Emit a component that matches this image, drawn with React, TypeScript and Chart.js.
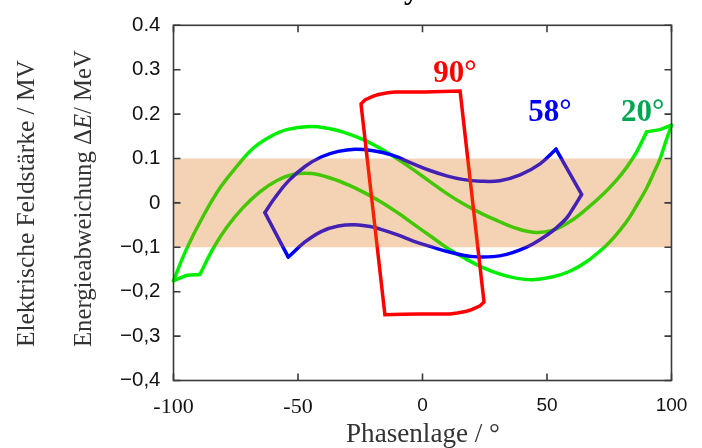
import React, { useEffect, useRef } from 'react';
import { Chart, registerables } from 'chart.js';

Chart.register(...registerables);

// ---------------- data ----------------
const xTickValues = [-100, -50, 0, 50, 100];
const xTickLabels = ['-100', '-50', '0', '50', '100'];
const yTickValues = [-0.4, -0.3, -0.2, -0.1, 0, 0.1, 0.2, 0.3, 0.4];
const yTickLabels = ['\u22120,4', '\u22120,3', '\u22120,2', '\u22120,1', '0', '0.1', '0.2', '0.3', '0.4'];

const bandLow = -0.1;
const bandHigh = 0.1;

// 20° (green) loop
const green20UpperX = [-100, -94.7, -88, -81.3, -74.6, -68, -61.2, -54.5, -45.2, -38, -31.5, -24, -17.4, -10, -4, 3, 9.5, 16, 23, 30, 36.5, 44.5, 52, 59.2, 66, 72.6, 78, 82, 86, 90];
const green20UpperY = [-0.175, -0.103, -0.029, 0.034, 0.082, 0.123, 0.149, 0.165, 0.172, 0.168, 0.159, 0.143, 0.124, 0.099, 0.076, 0.048, 0.022, -0.001, -0.022, -0.04, -0.055, -0.066, -0.062, -0.042, -0.013, 0.02, 0.052, 0.08, 0.115, 0.16];
const green20RightJoinX = [90, 95.4, 100];
const green20RightJoinY = [0.16, 0.165, 0.175];
const green20LowerX = [100, 97.5, 95.4, 92.5, 90, 86, 82, 77, 72.6, 66, 59.2, 52, 44.5, 38, 31.5, 24, 17.4, 10, 4, -3, -9.5, -16, -23, -30, -36.5, -44.5, -52, -58.6, -65.3, -72, -78.6, -84, -89.4];
const green20LowerY = [0.175, 0.135, 0.099, 0.063, 0.033, -0.006, -0.042, -0.077, -0.102, -0.132, -0.154, -0.167, -0.173, -0.17, -0.161, -0.145, -0.126, -0.102, -0.078, -0.05, -0.024, 0, 0.022, 0.041, 0.055, 0.066, 0.064, 0.05, 0.025, -0.01, -0.055, -0.102, -0.161];
const green20LeftJoinX = [-89.4, -94.6, -100];
const green20LeftJoinY = [-0.161, -0.163, -0.175];

// 58° (blue) loop
const blue58UpperX = [-63.3, -59.2, -53.9, -47.2, -40.5, -33.8, -27.1, -20.4, -12.4, -3.7, 3, 9.7, 16, 23.1, 31.1, 39.2, 47.2, 53.6];
const blue58UpperY = [-0.022, 0.012, 0.049, 0.082, 0.104, 0.116, 0.121, 0.118, 0.108, 0.088, 0.073, 0.061, 0.053, 0.049, 0.05, 0.063, 0.088, 0.121];
const blue58RightEdgeX = [53.6, 63.9];
const blue58RightEdgeY = [0.121, 0.019];
const blue58LowerX = [63.9, 60.5, 57.9, 54, 49.9, 44.5, 39.2, 33.8, 28.4, 20.4, 12.4, 3, -3.7, -10, -17, -20.4, -27.1, -33.8, -40.5, -47.2, -53.9];
const blue58LowerY = [0.019, -0.012, -0.034, -0.055, -0.073, -0.092, -0.106, -0.116, -0.121, -0.121, -0.113, -0.098, -0.086, -0.072, -0.059, -0.054, -0.049, -0.052, -0.064, -0.088, -0.122];
const blue58LeftEdgeX = [-53.9, -63.3];
const blue58LeftEdgeY = [-0.122, -0.022];

// 90° (red) loop
const red90X = [-24.7, -23.1, -20, -17.7, -14, -11, 1, 8, 15.1, 24.7, 23.1, 20, 17.7, 14, 11, -1, -8, -15.1, -24.7];
const red90Y = [0.223, 0.232, 0.24, 0.244, 0.248, 0.25, 0.25, 0.251, 0.252, -0.223, -0.232, -0.24, -0.244, -0.248, -0.25, -0.25, -0.251, -0.252, 0.223];

// curve labels
const curveLabels = ['90\u00b0', '58\u00b0', '20\u00b0'];
const curveLabelX = [13, 51.2, 88.4];
const curveLabelY = [0.272, 0.185, 0.185];
const curveLabelColors = ['#ff0000', '#0000f0', '#00a650'];

const xTitle = 'Phasenlage / \u00b0';
const yTitleOuter = 'Elektrische Feldst\u00e4rke / MV';
const yTitleInnerParts = [
  { t: 'Energieabweichung \u0394', it: false },
  { t: 'E', it: true },
  { t: '/ MeV', it: false },
];

const pts = (xs: number[], ys: number[]) => xs.map((x, i) => ({ x, y: ys[i] }));

const SERIF = "'Liberation Serif', 'DejaVu Serif', serif";
const SANS = "'Liberation Sans', Arial, sans-serif";

type Part = { t: string; it: boolean };

function partsWidth(ctx: CanvasRenderingContext2D, parts: Part[], size: number) {
  let w = 0;
  for (const p of parts) {
    ctx.font = `${p.it ? 'italic ' : ''}${size}px ${SERIF}`;
    w += ctx.measureText(p.t).width;
  }
  return w;
}

function drawParts(ctx: CanvasRenderingContext2D, parts: Part[], targetWidth: number) {
  const size = (100 * targetWidth) / partsWidth(ctx, parts, 100);
  let x = 0;
  for (const p of parts) {
    ctx.font = `${p.it ? 'italic ' : ''}${size}px ${SERIF}`;
    ctx.fillText(p.t, x, 0);
    x += ctx.measureText(p.t).width;
  }
}

const decorPlugin = {
  id: 'decor',
  afterDatasetsDraw(chart: any) {
    const { ctx, chartArea: a } = chart;
    const xs = chart.scales.x;
    const ys = chart.scales.y;
    ctx.save();
    // tolerance band (semi-transparent, on top of curves)
    const yTop = ys.getPixelForValue(bandHigh);
    const yBot = ys.getPixelForValue(bandLow);
    ctx.fillStyle = 'rgba(218,108,5,0.3)';
    ctx.fillRect(a.left, yTop, a.right - a.left, yBot - yTop);

    // frame + inward ticks
    ctx.strokeStyle = '#3a3a3a';
    ctx.lineWidth = 1.6;
    ctx.strokeRect(a.left, a.top, a.right - a.left, a.bottom - a.top);
    ctx.beginPath();
    const tl = 7;
    for (const v of xTickValues) {
      const px = xs.getPixelForValue(v);
      ctx.moveTo(px, a.bottom);
      ctx.lineTo(px, a.bottom - tl);
      ctx.moveTo(px, a.top);
      ctx.lineTo(px, a.top + tl);
    }
    for (const v of yTickValues) {
      const py = ys.getPixelForValue(v);
      ctx.moveTo(a.left, py);
      ctx.lineTo(a.left + tl, py);
      ctx.moveTo(a.right, py);
      ctx.lineTo(a.right - tl, py);
    }
    ctx.stroke();

    // curve labels
    ctx.textAlign = 'center';
    ctx.textBaseline = 'alphabetic';
    ctx.font = `bold 31px ${SERIF}`;
    curveLabels.forEach((t, i) => {
      ctx.fillStyle = curveLabelColors[i];
      ctx.fillText(t, xs.getPixelForValue(curveLabelX[i]), ys.getPixelForValue(curveLabelY[i]));
    });
    ctx.restore();
  },
  afterDraw(chart: any) {
    const { ctx } = chart;
    ctx.save();
    ctx.textBaseline = 'alphabetic';
    ctx.textAlign = 'left';
    ctx.fillStyle = '#333';

    // x title
    ctx.save();
    ctx.translate(346, 442);
    drawParts(ctx, [{ t: xTitle, it: false }], 154);
    ctx.restore();

    // y titles (rotated)
    ctx.save();
    ctx.translate(33.5, 347);
    ctx.rotate(-Math.PI / 2);
    drawParts(ctx, [{ t: yTitleOuter, it: false }], 287);
    ctx.restore();

    ctx.save();
    ctx.translate(90.5, 347);
    ctx.rotate(-Math.PI / 2);
    drawParts(ctx, yTitleInnerParts, 297);
    ctx.restore();

    // cut-off heading fragment at the very top
    ctx.fillStyle = '#000';
    ctx.font = `bold 30px ${SERIF}`;
    ctx.fillText('y', 404, -1);
    ctx.restore();
  },
};

export default function App() {
  const canvasRef = useRef<HTMLCanvasElement | null>(null);

  useEffect(() => {
    const canvas = canvasRef.current;
    if (!canvas) return;
    const line = (data: { x: number; y: number }[], color: string, tension: number) => ({
      data,
      borderColor: color,
      backgroundColor: color,
      borderWidth: 3.5,
      tension,
      pointRadius: 0,
      fill: false,
      clip: false as any,
      borderJoinStyle: 'miter' as const,
      borderCapStyle: 'round' as const,
    });
    const RED = '#ff0000';
    const BLUE = '#0000ff';
    const GREEN = '#00ee00';
    const chart = new Chart(canvas, {
      type: 'line',
      data: {
        datasets: [
          line(pts(red90X, red90Y), RED, 0),
          line(pts(blue58UpperX, blue58UpperY), BLUE, 0.4),
          line(pts(blue58RightEdgeX, blue58RightEdgeY), BLUE, 0),
          line(pts(blue58LowerX, blue58LowerY), BLUE, 0.4),
          line(pts(blue58LeftEdgeX, blue58LeftEdgeY), BLUE, 0),
          line(pts(green20UpperX, green20UpperY), GREEN, 0.4),
          line(pts(green20RightJoinX, green20RightJoinY), GREEN, 0),
          line(pts(green20LowerX, green20LowerY), GREEN, 0.4),
          line(pts(green20LeftJoinX, green20LeftJoinY), GREEN, 0),
        ] as any,
      },
      options: {
        responsive: false,
        animation: false,
        events: [],
        layout: { padding: { top: 20, right: 30.5, left: 0, bottom: 0 } },
        plugins: {
          legend: { display: false },
          tooltip: { enabled: false },
        },
        scales: {
          x: {
            type: 'linear',
            min: -100,
            max: 100,
            afterBuildTicks: (s: any) => {
              s.ticks = xTickValues.map((v) => ({ value: v }));
            },
            afterFit: (s: any) => {
              s.height = 67.5;
            },
            grid: { display: false, drawTicks: false },
            border: { display: false },
            ticks: {
              padding: 14,
              color: '#111',
              maxRotation: 0,
              autoSkip: false,
              font: (c: any) =>
                c.tick && c.tick.value < 0
                  ? { family: SERIF, size: 22 }
                  : { family: SANS, size: 19 },
              callback: (v: any) => {
                const i = xTickValues.indexOf(Number(v));
                return i >= 0 ? xTickLabels[i] : '';
              },
            },
          },
          y: {
            type: 'linear',
            min: -0.4,
            max: 0.4,
            afterBuildTicks: (s: any) => {
              s.ticks = yTickValues.map((v) => ({ value: v }));
            },
            afterFit: (s: any) => {
              s.width = 173.5;
            },
            grid: { display: false, drawTicks: false },
            border: { display: false },
            ticks: {
              padding: 13,
              color: '#111',
              autoSkip: false,
              font: { family: SANS, size: 20.5 },
              callback: (v: any) => {
                const i = yTickValues.findIndex((t) => Math.abs(t - Number(v)) < 1e-9);
                return i >= 0 ? yTickLabels[i] : '';
              },
            },
          },
        },
      } as any,
      plugins: [decorPlugin],
    });
    return () => chart.destroy();
  }, []);

  return (
    <div style={{ position: 'fixed', left: 0, top: 0, width: 702, height: 448, background: '#fff' }}>
      <canvas ref={canvasRef} width={702} height={448} style={{ display: 'block', width: 702, height: 448 }} />
    </div>
  );
}
